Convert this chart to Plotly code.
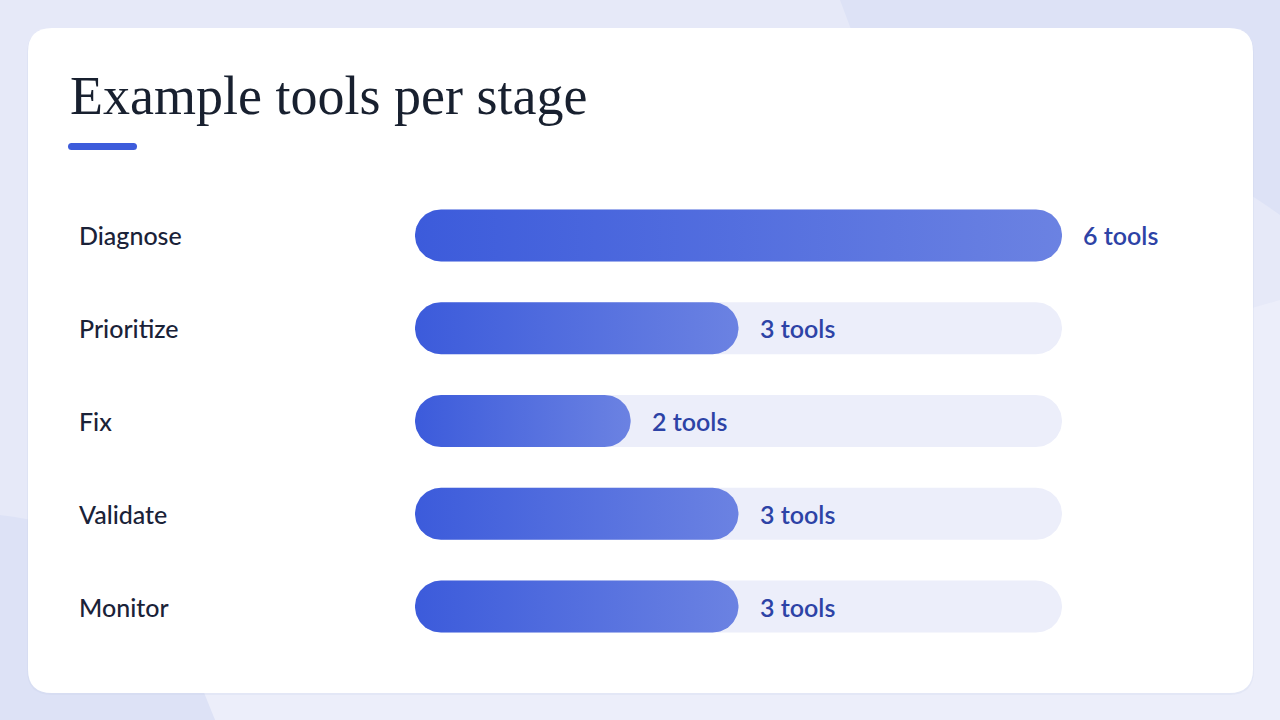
import numpy as np
import plotly.graph_objects as go

# ---- data ----
stages = ["Diagnose", "Prioritize", "Fix", "Validate", "Monitor"]
tools = [6, 3, 2, 3, 3]
value_labels = ["6 tools", "3 tools", "2 tools", "3 tools", "3 tools"]
title_text = "Example tools per stage"
max_tools = 6

# ---- layout geometry (pixels) ----
W, H = 1280, 720
ML, MR, MT, MB = 415, 218, 189, 67
PW, PH = W - ML - MR, H - MT - MB
n = len(stages)
px_per_x = PW / max_tools
px_per_y = PH / n
bar_h_px = 52


def pxx(p):  # pixel x -> paper
    return (p - ML) / PW


def pxy(p):  # pixel y -> paper
    return (H - MB - p) / PH


def pill(x0, x1, yc, npts=40):
    ry = (bar_h_px / 2) / px_per_y
    rx = (bar_h_px / 2) / px_per_x
    t = np.linspace(-np.pi / 2, np.pi / 2, npts)
    xr = (x1 - rx) + rx * np.cos(t)
    yr = yc + ry * np.sin(t)
    t2 = np.linspace(np.pi / 2, 3 * np.pi / 2, npts)
    xl = (x0 + rx) + rx * np.cos(t2)
    yl = yc + ry * np.sin(t2)
    xs = np.concatenate([xr, xl, [xr[0]]])
    ys = np.concatenate([yr, yl, [yr[0]]])
    return xs, ys


fig = go.Figure()

# tracks
for i, s in enumerate(stages):
    xs, ys = pill(0, max_tools, i)
    fig.add_trace(go.Scatter(x=xs, y=ys, fill="toself", mode="lines",
                             line=dict(width=0), fillcolor="#eceefa",
                             hoverinfo="skip", showlegend=False))

# value bars with gradient
for i, (s, v) in enumerate(zip(stages, tools)):
    xs, ys = pill(0, v, i)
    fig.add_trace(go.Scatter(
        x=xs, y=ys, fill="toself", mode="lines", line=dict(width=0),
        fillgradient=dict(type="horizontal",
                          colorscale=[[0, "#3c5bdb"], [1, "#6b82e2"]]),
        hoverinfo="skip", showlegend=False, name=s))

annotations = []
for i, (s, v, lab) in enumerate(zip(stages, tools, value_labels)):
    annotations.append(dict(
        x=pxx(77), xref="paper", y=i, yref="y", text=s, showarrow=False,
        xanchor="left", yanchor="middle",
        font=dict(family="Lato, Noto Sans, sans-serif", size=25, color="#1a2238", weight=500)))
    annotations.append(dict(
        x=v, xref="x", y=i, yref="y", text=lab, showarrow=False,
        xanchor="left", yanchor="middle", xshift=19,
        font=dict(family="Lato, Noto Sans, sans-serif", size=25, color="#2d43a6", weight=600)))

annotations.append(dict(
    x=pxx(68), xref="paper", y=pxy(96), yref="paper", text=title_text,
    showarrow=False, xanchor="left", yanchor="middle",
    font=dict(family="Liberation Serif, DejaVu Serif, serif", size=54, color="#18202f")))


def rrect(x0, y0, x1, y1, r):
    X0, X1 = pxx(x0), pxx(x1)
    return (f"M {pxx(x0 + r)} {pxy(y0)} L {pxx(x1 - r)} {pxy(y0)} "
            f"Q {X1} {pxy(y0)} {X1} {pxy(y0 + r)} L {X1} {pxy(y1 - r)} "
            f"Q {X1} {pxy(y1)} {pxx(x1 - r)} {pxy(y1)} L {pxx(x0 + r)} {pxy(y1)} "
            f"Q {X0} {pxy(y1)} {X0} {pxy(y1 - r)} L {X0} {pxy(y0 + r)} "
            f"Q {X0} {pxy(y0)} {pxx(x0 + r)} {pxy(y0)} Z")


shapes = [
    dict(type="path", xref="paper", yref="paper", layer="below",
         path=f"M {pxx(215)} {pxy(720)} L {pxx(170)} {pxy(620)} L {pxx(1280)} {pxy(300)} L {pxx(1280)} {pxy(720)} Z",
         fillcolor="#eceefa", line=dict(width=0)),
    dict(type="path", xref="paper", yref="paper", layer="below",
         path=f"M {pxx(840)} {pxy(0)} L {pxx(1280)} {pxy(0)} L {pxx(1280)} {pxy(215)} Q {pxx(1150)} {pxy(120)} {pxx(855)} {pxy(40)} Z",
         fillcolor="#dde2f6", line=dict(width=0)),
    dict(type="path", xref="paper", yref="paper", layer="below",
         path=f"M {pxx(0)} {pxy(515)} Q {pxx(130)} {pxy(530)} {pxx(175)} {pxy(620)} L {pxx(215)} {pxy(720)} L {pxx(0)} {pxy(720)} Z",
         fillcolor="#dde2f6", line=dict(width=0)),
    dict(type="path", xref="paper", yref="paper", layer="below",
         path=rrect(27, 29, 1254, 695, 25), fillcolor="rgba(190,197,230,0.18)", line=dict(width=0)),
    dict(type="path", xref="paper", yref="paper", layer="below",
         path=rrect(28, 28, 1253, 693, 24), fillcolor="#ffffff", line=dict(width=0)),
    dict(type="path", xref="paper", yref="paper", layer="above",
         path=rrect(68, 143, 137, 150, 3.5), fillcolor="#3d5cdb", line=dict(width=0)),
]

fig.update_layout(
    width=W, height=H,
    margin=dict(l=ML, r=MR, t=MT, b=MB),
    paper_bgcolor="#e6e9f8", plot_bgcolor="rgba(0,0,0,0)",
    xaxis=dict(range=[0, max_tools], visible=False, fixedrange=True),
    yaxis=dict(range=[n - 0.5, -0.5], visible=False, fixedrange=True),
    annotations=annotations, shapes=shapes, showlegend=False,
)

fig.write_html("out.html", config={"displayModeBar": False},
               post_script="document.body.style.margin='0';document.body.style.overflow='hidden';")
